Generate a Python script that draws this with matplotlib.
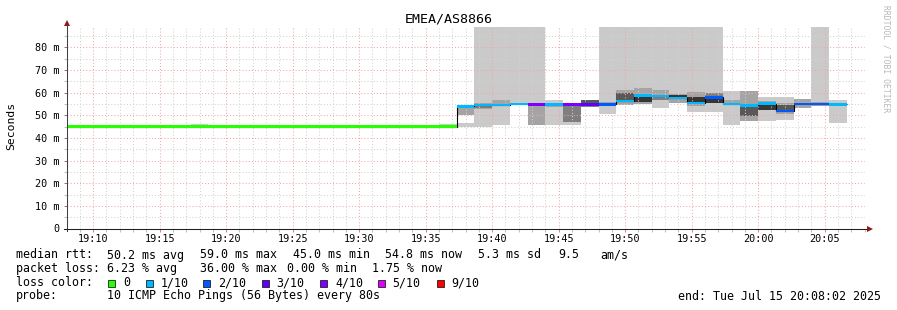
import matplotlib
matplotlib.use('Agg')
import matplotlib.pyplot as plt
from matplotlib.patches import Rectangle

W, H, DPI = 897, 310, 100
MONO = 'DejaVu Sans Mono'

# ---------------- data ----------------
title = "EMEA/AS8866"
x_tick_labels = ['19:10', '19:15', '19:20', '19:25', '19:30', '19:35',
                 '19:40', '19:45', '19:50', '19:55', '20:00', '20:05']
y_tick_values = [0, 10, 20, 30, 40, 50, 60, 70, 80]
y_tick_labels = ['0', '10 m', '20 m', '30 m', '40 m', '50 m', '60 m', '70 m', '80 m']
window_start = "19:08:02"
window_end = "20:08:02"
first_step = "19:37:20"          # start of step index 0
step_seconds = 80
y_top = 89.2

step_index = list(range(-22, 22))
median_ms = [45.0, 45.0, 45.0, 45.0, 45.0, 45.0, 45.0, 45.0, 45.0, 45.0, 45.0,
             45.0, 45.0, 45.0, 45.0, 45.0, 45.0, 45.0, 45.0, 45.0, 45.0, 45.0,
             53.9, 54.6, 54.6, 54.9, 54.8, 54.8, 54.8, 54.8, 54.8, 56.3, 58.7,
             58.5, 57.6, 55.4, 57.9, 54.9, 54.4, 55.1, 51.8, 55.0, 55.0, 54.8]
loss_tenths = [0, 0, 0, 0, 0, 0, 0, 0, 0, 0, 0,
               0, 0, 0, 0, 0, 0, 0, 0, 0, 0, 0,
               1, 1, 1, 1, 4, 1, 4, 3, 2, 1, 1,
               1, 1, 1, 2, 1, 1, 1, 2, 2, 2, 1]

# smoke bands (step, low ms, high ms, shade level); 200 = beyond the top of the chart
smoke_step = [-15, -11, -10, -1,
              0, 0,
              1, 1, 1,
              2, 2,
              3,
              4, 4,
              5, 5,
              6, 6,
              7, 7,
              8, 8,
              9, 9, 9,
              10, 10, 10,
              11, 11, 11,
              12, 12, 12,
              13, 13, 13,
              14, 14, 14,
              15, 15,
              16, 16,
              17, 17, 17,
              18, 18, 18,
              19,
              20, 20,
              21]
smoke_lo = [45.0, 45.0, 45.0, 45.0,
            44.8, 50.2,
            44.7, 52.8, 53.0,
            45.8, 54.1,
            54.4,
            45.8, 45.8,
            45.6, 53.6,
            45.6, 46.9,
            53.5, 55.2,
            50.5, 54.0,
            54.4, 54.4, 55.8,
            55.0, 55.0, 56.0,
            53.1, 56.6, 56.6,
            55.5, 55.5, 57.7,
            51.6, 54.2, 56.0,
            51.6, 55.3, 55.3,
            45.7, 54.5,
            47.5, 49.5,
            47.5, 52.3, 52.3,
            48.0, 50.5, 52.3,
            53.3,
            54.5, 54.0,
            46.7]
smoke_hi = [46.2, 45.8, 45.8, 46.3,
            46.5, 53.9,
            200, 55.6, 54.2,
            200, 56.6,
            200,
            200, 54.4,
            56.6, 54.6,
            54.4, 54.4,
            56.6, 56.6,
            200, 55.8,
            200, 61.3, 59.8,
            200, 61.9, 58.5,
            200, 61.3, 58.0,
            200, 59.5, 58.9,
            200, 60.4, 58.2,
            200, 59.7, 57.3,
            60.7, 56.7,
            60.7, 53.8,
            57.9, 56.5, 54.5,
            57.9, 55.5, 54.5,
            57.2,
            200, 56.0,
            56.7]
smoke_shade = [0, 0, 0, 0,
               0, 1,
               0, 1, 2,
               0, 1,
               0,
               0, 1,
               0, 1,
               0, 2,
               2, 3,
               0, 1,
               0, 1, 3,
               0, 1, 4,
               0, 1, 2,
               0, 1, 4,
               0, 1, 4,
               0, 2, 4,
               0, 1,
               1, 3,
               0, 1, 4,
               0, 1, 3,
               1,
               0, 1,
               0]
shade_colors = ['#cacaca', '#a4a4a4', '#7e7e7e', '#585858', '#363636']

loss_levels = [0, 1, 2, 3, 4, 5, 9]
loss_names = ['0', '1/10', '2/10', '3/10', '4/10', '5/10', '9/10']
loss_colors = ['#26ff00', '#00b8ff', '#0059ff', '#5e00ff', '#7e00ff', '#dd00ff', '#ff0000']

stats_rtt = ['median rtt:', '50.2 ms avg', '59.0 ms max', '45.0 ms min',
             '54.8 ms now', '5.3 ms sd', '9.5', 'am/s']
stats_loss = ['packet loss:', '6.23 % avg', '36.00 % max', '0.00 % min', '1.75 % now']
probe_text = ['probe:', '10 ICMP Echo Pings (56 Bytes) every 80s']
end_text = 'end: Tue Jul 15 20:08:02 2025'
credit = 'RRDTOOL / TOBI OETIKER'


def minutes(s):
    p = [int(v) for v in s.split(':')]
    sec = p[2] if len(p) > 2 else 0
    return (p[0] - 19) * 60 + p[1] + sec / 60.0


# ---------------- figure ----------------
fig = plt.figure(figsize=(W / DPI, H / DPI), dpi=DPI, facecolor='white')
L, R, T, B = 67, 865, 26.5, 228.5
ax = fig.add_axes([L / W, 1 - B / H, (R - L) / W, (B - T) / H])
ax.set_facecolor('white')

step_w = step_seconds / 60.0
t0 = minutes(first_step)
lefts = {k: t0 + k * step_w for k in step_index}

# smoke
for k, lo, hi, sh in zip(smoke_step, smoke_lo, smoke_hi, smoke_shade):
    ax.bar(lefts[k], hi - lo, bottom=lo, width=step_w, align='edge',
           color=shade_colors[sh], linewidth=0, zorder=1)

# black median step line
edges = [lefts[k] for k in step_index] + [lefts[step_index[-1]] + step_w]
ax.stairs(median_ms, edges, baseline=None, color='black', linewidth=0.8, zorder=3)

# loss colored median band
col_of = dict(zip(loss_levels, loss_colors))
half = 0.55
for k, m, lo in zip(step_index, median_ms, loss_tenths):
    ax.bar(lefts[k], 2 * half, bottom=m - half, width=step_w, align='edge',
           color=col_of[lo], linewidth=0, zorder=4)

ax.set_xlim(minutes(window_start), minutes(window_end))
ax.set_ylim(0, y_top)

xt = [minutes(s) for s in x_tick_labels]
ax.set_xticks(xt)
ax.set_xticklabels(x_tick_labels, fontfamily=MONO, fontsize=7.3)
ax.set_xticks(list(range(9, 69)), minor=True)
ax.set_yticks(y_tick_values)
ax.set_yticklabels(y_tick_labels, fontfamily=MONO, fontsize=7.3)
ax.set_yticks([5, 15, 25, 35, 45, 55, 65, 75, 85], minor=True)

ax.set_axisbelow(False)
ax.grid(which='major', color='#f4a6a6', linestyle=(0, (1, 2)), linewidth=0.75)
ax.grid(which='minor', color='#d2d2d2', linestyle=(0, (1, 2)), linewidth=0.75)

ax.tick_params(which='major', length=2, width=0.75, color='#e08080')
ax.tick_params(which='minor', length=2, width=0.75, color='#c0c0c0')
ax.tick_params(axis='x', which='major', pad=2.2)
ax.tick_params(axis='y', which='major', color='#808080', pad=3.5)

for s in ax.spines.values():
    s.set_visible(False)

# axis lines with arrows
ax.plot([0, 0], [-0.012, 1.02], transform=ax.transAxes, color='#404040',
        linewidth=0.75, clip_on=False, zorder=6)
ax.plot([-0.004, 1.004], [0, 0], transform=ax.transAxes, color='#202020',
        linewidth=0.75, clip_on=False, zorder=6)
ax.plot([0], [1.016], marker='^', markersize=4, color='#8b1a1a',
        transform=ax.transAxes, clip_on=False, zorder=7, markeredgewidth=0)
ax.plot([1.006], [0], marker='>', markersize=4, color='#8b1a1a',
        transform=ax.transAxes, clip_on=False, zorder=7, markeredgewidth=0)


def ftext(x, y, s, **kw):
    kw.setdefault('fontfamily', MONO)
    kw.setdefault('fontsize', 8.4)
    kw.setdefault('va', 'center')
    kw.setdefault('ha', 'left')
    fig.text(x / W, 1 - y / H, s, **kw)


ftext(W / 2, 19, title, ha='center', fontsize=9.6)
ftext(11, 126, 'Seconds', ha='center', rotation=90, fontsize=8.2)
ftext(886, 59, credit, ha='center', rotation=270, fontsize=5.8, color='#b8b8b8')

# legend rows
rtt_x = [16, 107, 200, 293.3, 385, 478.3, 558.3, 600]
for xx, s in zip(rtt_x, stats_rtt):
    ftext(xx, 255, s)
loss_x = [16, 107, 200, 286.7, 371.7]
for xx, s in zip(loss_x, stats_loss):
    ftext(xx, 268.5, s)

ftext(16, 282.5, 'loss color:')
sq_x = [108.3, 145.7, 203.3, 261.7, 320, 377.7, 436.7]
for xx, name, c in zip(sq_x, loss_names, loss_colors):
    fig.add_artist(Rectangle((xx / W, 1 - 286.5 / H), 7 / W, 7 / H,
                             transform=fig.transFigure, facecolor=c,
                             edgecolor='#202020', linewidth=0.6))
    ftext(xx + 15, 282.5, name)

ftext(16, 296, probe_text[0])
ftext(107, 296, probe_text[1])
ftext(881, 296, end_text, ha='right')

fig.savefig('out.png', dpi=DPI, facecolor='white')
